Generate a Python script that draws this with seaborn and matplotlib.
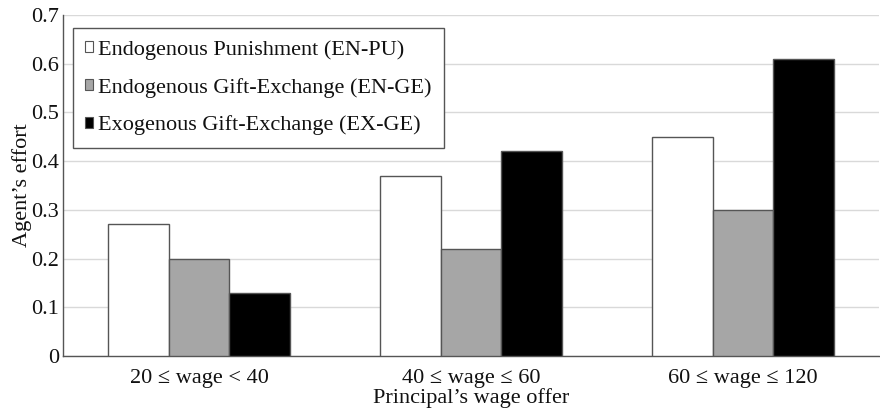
import matplotlib
matplotlib.use("Agg")
import matplotlib.pyplot as plt
import seaborn as sns
import pandas as pd
from matplotlib.ticker import FixedLocator

categories = ["20 ≤ wage < 40", "40 ≤ wage ≤ 60", "60 ≤ wage ≤ 120"]
series = ["Endogenous Punishment (EN-PU)",
          "Endogenous Gift-Exchange (EN-GE)",
          "Exogenous Gift-Exchange (EX-GE)"]
en_pu = [0.27, 0.37, 0.45]
en_ge = [0.20, 0.22, 0.30]
ex_ge = [0.13, 0.42, 0.61]
y_ticks = [0, 0.1, 0.2, 0.3, 0.4, 0.5, 0.6, 0.7]
y_tick_labels = ["0", "0.1", "0.2", "0.3", "0.4", "0.5", "0.6", "0.7"]

rows = []
for s, vals in zip(series, [en_pu, en_ge, ex_ge]):
    for c, v in zip(categories, vals):
        rows.append({"cat": c, "series": s, "value": v})
df = pd.DataFrame(rows)

sns.set_theme(style="white")
plt.rcParams["font.family"] = ["Liberation Serif", "DejaVu Serif"]

FS = 16
fig = plt.figure(figsize=(8.8, 4.11), dpi=100)
ax = fig.add_axes([63/880, 1-356/411, 816/880, 341/411])

palette = {series[0]: "#ffffff", series[1]: "#a6a6a6", series[2]: "#000000"}
sns.barplot(data=df, x="cat", y="value", hue="series", hue_order=series,
            order=categories, palette=palette, width=0.67, gap=0,
            edgecolor="#555555", linewidth=1, ax=ax, zorder=3)

ax.set_xlim(-0.5, 2.5)
ax.set_ylim(0, 0.7)
ax.yaxis.set_major_locator(FixedLocator(y_ticks))
ax.set_yticklabels(y_tick_labels, fontsize=FS, color="#111111")
ax.tick_params(axis="x", labelsize=FS, length=0, pad=9, labelcolor="#111111")
ax.tick_params(axis="y", length=0, pad=3)
ax.grid(axis="y", color="#d9d9d9", linewidth=1, zorder=0)
ax.set_axisbelow(True)
for side in ["top", "right"]:
    ax.spines[side].set_visible(False)
for side in ["left", "bottom"]:
    ax.spines[side].set_color("#555555")
    ax.spines[side].set_linewidth(1)

ax.set_xlabel("Principal’s wage offer", fontsize=FS, labelpad=0.5, color="#111111")
ax.set_ylabel("Agent’s effort", fontsize=FS, labelpad=-1, color="#111111")

leg = ax.legend(loc="upper left", bbox_to_anchor=(0.012, 0.962), borderaxespad=0,
                fontsize=FS, handlelength=0.38, handleheight=0.38, handletextpad=0.2,
                labelspacing=0.8, borderpad=0.55, frameon=True, fancybox=False,
                edgecolor="#555555", framealpha=1)
leg.get_frame().set_linewidth(1)
for t in leg.get_texts():
    t.set_color("#111111")
for h in leg.legend_handles:
    h.set_edgecolor("#555555")
    h.set_linewidth(0.8)

fig.savefig("out.png", dpi=100)
